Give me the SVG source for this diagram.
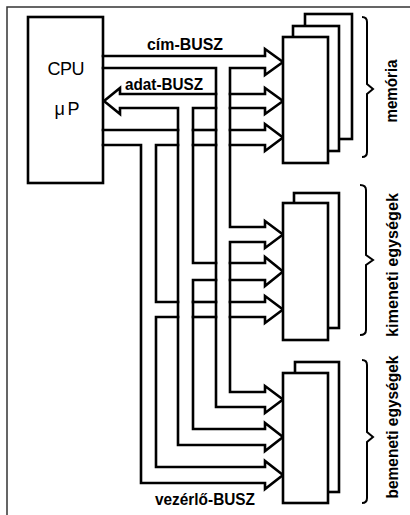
<svg xmlns="http://www.w3.org/2000/svg" width="410" height="515" viewBox="0 0 410 515">
<style>
.ln{fill:none;stroke:#000;stroke-width:2.6;stroke-linejoin:miter;stroke-linecap:square}
.bx{fill:#fff;stroke:#000;stroke-width:2.6}
.br{fill:none;stroke:#000;stroke-width:2;stroke-linejoin:miter}
.t{font-family:"Liberation Sans",Arial,sans-serif;font-weight:bold;fill:#000}
.c{font-family:"Liberation Sans",Arial,sans-serif;font-weight:normal;fill:#000}
</style>
<rect width="410" height="515" fill="#fff"/>
<rect x="7" y="7" width="420" height="520" fill="none" stroke="#333" stroke-width="1.5"/>
<g id="cpu">
<rect class="bx" x="28" y="17" width="75" height="166"/>
<text class="c" x="66" y="75" font-size="18" text-anchor="middle" textLength="37" lengthAdjust="spacing">CPU</text>
<text class="c" x="67" y="115" font-size="18" text-anchor="middle" textLength="25" lengthAdjust="spacing">μP</text>
</g>
<g id="connectors">
<path id="cim-busz" class="ln" d="M103,56 H265 V49 L283,62 L265,75 V68 H230 V227 H265 V221 L283,234.5 L265,248 V242 H230 V392 H265 V386 L283,399.5 L265,413 V407 H216 V68 H103"/>
<g id="adat-busz">
<path class="ln" d="M216,94 H120 V88 L104,101 L120,114 V108 H178 V445 H265 V451 L283,437 L265,423 V429 H193 V280 H216"/>
<path class="ln" d="M230,280 H265 V286 L283,271.5 L265,257 V263 H230"/>
<path class="ln" d="M216,263 H193 V108 H216"/>
<path class="ln" d="M230,108 H265 V114 L283,101 L265,88 V94 H230"/>
</g>
<g id="vezerlo-busz">
<path class="ln" d="M103,130 H178"/>
<path class="ln" d="M193,130 H216"/>
<path class="ln" d="M230,130 H265 V124 L283,137.5 L265,151 V145 H230"/>
<path class="ln" d="M216,145 H193"/>
<path class="ln" d="M178,145 H156 V302 H178"/>
<path class="ln" d="M193,302 H216"/>
<path class="ln" d="M230,302 H265 V296 L283,309.5 L265,323 V317 H230"/>
<path class="ln" d="M216,317 H193"/>
<path class="ln" d="M178,317 H156 V467 H265 V461 L283,475 L265,489 V483 H141 V145 H103"/>
</g>
<text class="t" x="185" y="50" font-size="16" text-anchor="middle" textLength="76" lengthAdjust="spacingAndGlyphs">cím-BUSZ</text>
<text class="t" x="164" y="90" font-size="16" text-anchor="middle" textLength="78" lengthAdjust="spacingAndGlyphs">adat-BUSZ</text>
<text class="t" x="205" y="505" font-size="16" text-anchor="middle" textLength="100" lengthAdjust="spacingAndGlyphs">vezérlő-BUSZ</text>
</g>
<g id="memoria">
<rect class="bx" x="305" y="14" width="47" height="125"/>
<rect class="bx" x="293" y="26" width="46" height="125"/>
<rect class="bx" x="283" y="37" width="45" height="126"/>
<path class="br" d="M362,17 Q367,17 367,22 V84 L373,89 L367,94 V152 Q367,157 362,157"/>
<text class="t" transform="translate(397,91) rotate(-90)" font-size="17" text-anchor="middle" textLength="63" lengthAdjust="spacingAndGlyphs">memória</text>
</g>
<g id="kimeneti">
<rect class="bx" x="294" y="193" width="45" height="135"/>
<rect class="bx" x="283" y="203" width="45" height="137"/>
<path class="br" d="M360,185 Q366,185 366,190 V255 L373,260 L366,265 V330 Q366,335 360,335"/>
<text class="t" transform="translate(398,265) rotate(-90)" font-size="17" text-anchor="middle" textLength="144" lengthAdjust="spacingAndGlyphs">kimeneti egységek</text>
</g>
<g id="bemeneti">
<rect class="bx" x="295" y="362" width="44" height="130"/>
<rect class="bx" x="283" y="373" width="45" height="130"/>
<path class="br" d="M362,360 Q367,360 367,365 V432 L373,437 L367,442 V498 Q367,503 362,503"/>
<text class="t" transform="translate(398,427) rotate(-90)" font-size="17" text-anchor="middle" textLength="143" lengthAdjust="spacingAndGlyphs">bemeneti egységek</text>
</g>
</svg>
